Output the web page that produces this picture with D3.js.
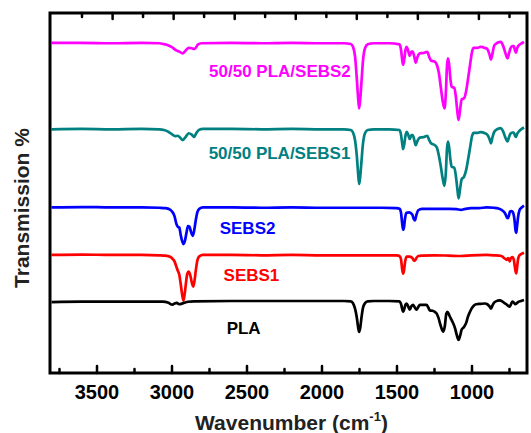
<!DOCTYPE html>
<html><head><meta charset="utf-8">
<script src="https://cdn.jsdelivr.net/npm/d3@7"></script>
<style>
body{margin:0;background:#fff;}
text{font-family:"Liberation Sans",Arial,sans-serif;font-weight:bold;}
</style></head>
<body><svg id="c" width="531" height="433"></svg>
<script>
// ---------- data ----------
const majorTicks = [3500, 3000, 2500, 2000, 1500, 1000];
const tickLabels = ["3500", "3000", "2500", "2000", "1500", "1000"];
const minorTicks = [3750, 3250, 2750, 2250, 1750, 1250, 750];
const topTicks = [3600, 3396, 3193, 2989, 2786, 2582, 2379, 2175, 1971, 1768, 1564, 1361, 1157, 954, 750];

const seriesNames = ["50/50 PLA/SEBS2", "50/50 PLA/SEBS1", "SEBS2", "SEBS1", "PLA"];
const seriesColors = ["#ff00ff", "#008080", "#0000ff", "#ff0000", "#000000"];

const blend2 = [[3800,91.7],[3600,91.7],[3400,91.6],[3200,91.7],[3080,91.6],[3055,91.4],[3020,91.0],[3000,90.6],[2968,89.6],[2945,89.2],[2926,88.8],[2905,89.6],[2885,90.3],[2865,90.2],[2845,90.0],[2825,91.2],[2800,91.6],[2600,91.7],[2400,91.6],[2200,91.7],[2000,91.6],[1850,91.6],[1805,91.4],[1790,90.6],[1776,87.8],[1765,82],[1756,76.5],[1749,73.5],[1742,76],[1734,80.5],[1724,86.5],[1710,90.2],[1692,91.3],[1650,91.6],[1550,91.6],[1480,91.3],[1470,89.8],[1462,87],[1456,85.6],[1448,87.2],[1440,89.8],[1432,90.6],[1422,89.5],[1412,88.1],[1400,89.3],[1392,89.3],[1380,87.6],[1372,86.2],[1360,87.8],[1345,88.8],[1320,88.9],[1295,89.2],[1282,87.8],[1270,86.8],[1245,86.5],[1230,85.5],[1218,83.5],[1205,79.5],[1192,75.5],[1180,73.5],[1172,77],[1163,85.5],[1157,87.4],[1150,86],[1140,81.5],[1132,79.5],[1115,79.2],[1105,77],[1094,72.5],[1086,70.3],[1075,73.5],[1066,76],[1050,76.3],[1035,78.5],[1022,82],[1010,85.5],[995,89.5],[985,90.3],[960,90.3],[940,90.6],[910,90.3],[895,90],[880,88.5],[870,87.1],[860,88.8],[848,91],[825,91.8],[805,92],[790,91],[775,89],[760,87.4],[750,88.8],[740,90.2],[728,90.8],[718,90.8],[710,89.6],[704,89.0],[695,90.3],[680,91.2],[665,91.6],[650,92.0]];

const blend1 = [[3800,67.7],[3600,67.8],[3400,67.7],[3200,67.8],[3080,67.7],[3050,67.5],[3020,67.0],[3000,66.4],[2975,65.8],[2960,65.9],[2945,65.5],[2926,64.7],[2905,65.6],[2885,66.6],[2865,66.2],[2850,65.6],[2835,66.6],[2815,67.6],[2790,67.8],[2600,67.8],[2400,67.7],[2200,67.8],[2000,67.7],[1850,67.7],[1805,67.5],[1790,66.8],[1776,64.6],[1765,60.5],[1756,55.5],[1749,52.5],[1742,54.5],[1734,58.5],[1724,63.5],[1710,66.6],[1692,67.5],[1650,67.7],[1550,67.7],[1480,67.5],[1470,66.2],[1462,63.8],[1456,62.2],[1448,63.6],[1440,66],[1432,67],[1422,66.2],[1412,65.0],[1400,66.1],[1392,66.1],[1380,64.5],[1372,63.3],[1360,64.5],[1345,65.4],[1320,65.5],[1295,65.9],[1282,64.7],[1270,63.8],[1245,63.3],[1230,62.5],[1218,60.5],[1205,57.5],[1192,54],[1180,52.0],[1172,55],[1163,62.5],[1157,64.3],[1150,63],[1140,59],[1132,57.3],[1115,57],[1105,55],[1094,51],[1086,48.5],[1075,51.5],[1066,53.8],[1050,54.5],[1035,56.5],[1022,59.5],[1010,62.5],[995,66],[985,66.7],[960,66.7],[940,66.9],[910,66.6],[895,66.2],[880,65],[870,63.8],[860,65.5],[848,67],[825,67.8],[805,68],[790,67.2],[775,65.5],[760,64.3],[750,65.5],[740,66.5],[728,66.8],[718,66.8],[710,65.9],[704,65.6],[695,66.5],[680,67.3],[665,67.8],[650,68.2]];

const sebs2 = [[3800,46.0],[3600,46.1],[3400,46.0],[3200,46.0],[3080,45.9],[3040,45.8],[3010,45.4],[2995,44.8],[2980,43.6],[2968,41.5],[2958,40.6],[2948,40.4],[2938,38.2],[2928,36.5],[2920,35.8],[2910,36.8],[2900,39],[2890,40.8],[2880,40.6],[2870,39.2],[2858,38.1],[2848,39.8],[2838,42.5],[2828,44.6],[2815,45.6],[2790,46.0],[2600,46.0],[2400,45.9],[2200,46.0],[2000,45.9],[1800,45.9],[1600,45.9],[1500,45.8],[1480,45.6],[1470,44.5],[1462,41.5],[1456,39.8],[1450,40.5],[1443,43.0],[1434,44.5],[1415,44.6],[1395,44.0],[1385,42.8],[1377,42.4],[1368,43.8],[1355,45.2],[1330,45.6],[1250,45.6],[1150,45.6],[1100,45.5],[1070,45.3],[1040,45.6],[1000,45.8],[950,45.8],[900,46.0],[850,45.9],[820,45.7],[800,45.3],[785,44.8],[772,44.0],[764,43.2],[757,43.0],[750,43.8],[744,44.8],[735,45.0],[727,44.8],[718,43.8],[712,42],[706,39.5],[702,38.9],[697,40.5],[690,43.2],[680,45.2],[670,45.8],[650,46.5]];

const sebs1 = [[3800,32.8],[3600,32.9],[3400,32.8],[3200,32.8],[3080,32.7],[3040,32.6],[3010,32.3],[2995,31.8],[2980,31],[2968,29.6],[2958,28.4],[2948,27.3],[2938,24.5],[2928,21.5],[2920,20.1],[2912,22],[2903,25.2],[2895,27.5],[2885,28.2],[2875,27.2],[2865,25.2],[2855,24.0],[2847,25.5],[2838,28.5],[2828,31.2],[2815,32.4],[2790,32.8],[2600,32.8],[2400,32.7],[2200,32.8],[2000,32.7],[1800,32.7],[1600,32.7],[1500,32.7],[1480,32.5],[1470,31.6],[1462,28.8],[1456,27.6],[1450,28.5],[1443,30.8],[1434,32.3],[1415,32.3],[1395,32],[1385,31.3],[1378,31.2],[1368,31.9],[1355,32.5],[1330,32.6],[1250,32.7],[1150,32.6],[1070,32.5],[1000,32.7],[900,32.8],[850,32.7],[800,32.5],[785,32.0],[772,31.6],[764,31.4],[757,31.9],[750,31.5],[745,31.0],[738,31.9],[728,32.2],[718,31.5],[712,29.8],[706,28.2],[702,27.7],[697,29],[690,31.5],[680,32.7],[670,33.0],[650,33.4]];

const pla = [[3800,19.7],[3600,19.8],[3400,19.8],[3200,19.8],[3060,19.8],[3020,19.5],[3005,19.1],[2993,19.0],[2980,19.3],[2965,19.5],[2950,19.1],[2935,19.2],[2915,19.5],[2890,19.8],[2850,19.9],[2600,20.0],[2400,20.0],[2200,20.0],[2000,20.0],[1850,20.0],[1805,19.9],[1790,19.4],[1776,17.8],[1765,15.5],[1756,12.8],[1749,11.4],[1742,12.5],[1734,15.2],[1724,18.0],[1710,19.4],[1692,19.9],[1650,20.0],[1550,20.0],[1480,19.9],[1470,19.2],[1462,17.8],[1456,17.0],[1448,17.8],[1440,19.0],[1432,19.3],[1422,18.5],[1412,17.6],[1400,18.6],[1390,18.9],[1378,18.2],[1367,17.6],[1355,18.3],[1345,18.9],[1320,18.9],[1300,18.9],[1288,18.2],[1278,17.4],[1260,17.3],[1245,17.0],[1232,16.5],[1220,15.3],[1208,13.5],[1196,12.0],[1188,11.5],[1178,13.0],[1168,16.5],[1160,17.0],[1150,16.2],[1140,15.3],[1130,14.5],[1120,13.6],[1108,12.2],[1098,10.5],[1086,9.2],[1075,10.5],[1066,12],[1050,12.8],[1035,14],[1024,15.6],[1010,17.0],[995,18.2],[985,18.7],[968,19.1],[940,19.2],[910,19.3],[895,19.1],[880,18.5],[870,17.9],[860,18.8],[848,19.6],[825,20.1],[810,20.2],[795,19.9],[780,19.4],[768,19.1],[757,18.7],[746,18.4],[738,19.0],[728,19.8],[718,19.6],[708,19.1],[700,19.3],[690,19.7],[670,20.0],[650,20.3]];

// label anchor positions (wavenumber, transmission)
const labelPos = [[2277, 82.2], [2280, 59.4], [2493, 38.7], [2467, 25.6], [2519, 10.8]];

// ---------- chart ----------
const svg = d3.select("#c");
const L = 50, R = 527, T = 13, B = 373;
const x = d3.scaleLinear().domain([3810, 630]).range([L, R]);
const y = d3.scaleLinear().domain([0, 100]).range([B, T]);

const allSeries = [blend2, blend1, sebs2, sebs1, pla];
const line = d3.line().x(d => x(d[0])).y(d => y(d[1])).curve(d3.curveMonotoneX);

svg.append("g").selectAll("path").data(allSeries).join("path")
  .attr("d", line).attr("fill", "none")
  .attr("stroke", (d, i) => seriesColors[i])
  .attr("stroke-width", 2.7).attr("stroke-linejoin", "round");

// labels
svg.append("g").selectAll("text").data(seriesNames).join("text")
  .attr("x", (d, i) => x(labelPos[i][0]))
  .attr("y", (d, i) => y(labelPos[i][1]))
  .attr("text-anchor", "middle").attr("font-size", 17)
  .attr("fill", (d, i) => seriesColors[i]).text(d => d);

// axes
const axB = d3.axisBottom(x).tickValues(majorTicks).tickFormat((d, i) => tickLabels[i])
  .tickSizeInner(-7).tickSizeOuter(0).tickPadding(12);
const gB = svg.append("g").attr("transform", `translate(0,${B})`).call(axB);
gB.select(".domain").remove();
gB.selectAll("text").attr("font-size", 20).attr("fill", "#000")
  .style("font-family", "'Liberation Sans',Arial,sans-serif").style("font-weight", "bold");
gB.selectAll("line").attr("stroke-width", 2.5).attr("stroke-linecap", "round");

const axBm = d3.axisBottom(x).tickValues(minorTicks).tickFormat("").tickSizeInner(-4).tickSizeOuter(0);
const gBm = svg.append("g").attr("transform", `translate(0,${B})`).call(axBm);
gBm.select(".domain").remove();
gBm.selectAll("line").attr("stroke-width", 2.5).attr("stroke-linecap", "round");

const axT = d3.axisTop(x).tickValues(topTicks).tickFormat("").tickSizeInner(-5).tickSizeOuter(0);
const gT = svg.append("g").attr("transform", `translate(0,${T})`).call(axT);
gT.select(".domain").remove();
gT.selectAll("line").attr("stroke-width", 2.5).attr("stroke-linecap", "round")
  .attr("y2", (d, i) => i % 2 ? 6 : 4);

// frame
svg.append("rect").attr("x", L).attr("y", T).attr("width", R - L).attr("height", B - T)
  .attr("fill", "none").attr("stroke", "#000").attr("stroke-width", 3);

// axis titles
const xt = svg.append("text").attr("x", (L + R) / 2 + 3).attr("y", 430)
  .attr("text-anchor", "middle").attr("font-size", 21).attr("fill", "#222");
xt.append("tspan").text("Wavenumber (cm");
xt.append("tspan").attr("font-size", 13).attr("dy", -9).text("-1");
xt.append("tspan").attr("dy", 9).text(")");

svg.append("text").attr("transform", `translate(29,${(T + B) / 2 + 15}) rotate(-90)`)
  .attr("text-anchor", "middle").attr("font-size", 21).attr("fill", "#222")
  .text("Transmission %");
</script></body></html>
